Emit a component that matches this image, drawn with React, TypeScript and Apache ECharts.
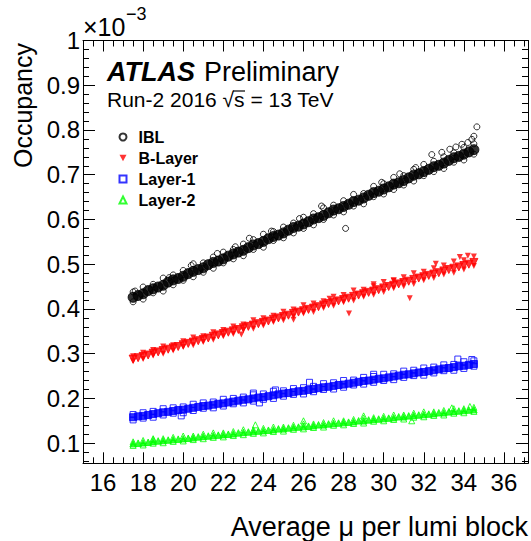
import React, { useEffect, useRef } from "react";
import * as echarts from "echarts";

// x grid of the measured lumi blocks (two interleaved rows)
const xA = [17.5, 18.0, 18.5, 19.0, 19.5, 20.0, 20.5, 21.0, 21.5, 22.0, 22.5, 23.0, 23.5, 24.0, 24.5, 25.0, 25.5, 26.0, 26.5, 27.0, 27.5, 28.0, 28.5, 29.0, 29.5, 30.0, 30.5, 31.0, 31.5, 32.0, 32.5, 33.0, 33.5, 34.0, 34.5];
const xB = [17.75, 18.25, 18.75, 19.25, 19.75, 20.25, 20.75, 21.25, 21.75, 22.25, 22.75, 23.25, 23.75, 24.25, 24.75, 25.25, 25.75, 26.25, 26.75, 27.25, 27.75, 28.25, 28.75, 29.25, 29.75, 30.25, 30.75, 31.25, 31.75, 32.25, 32.75, 33.25, 33.75, 34.25];

// IBL occupancy (x 1e-3)
const iblHi = [0.438, 0.449, 0.455, 0.469, 0.476, 0.486, 0.501, 0.503, 0.516, 0.527, 0.533, 0.545, 0.555, 0.567, 0.573, 0.583, 0.592, 0.605, 0.613, 0.626, 0.632, 0.642, 0.656, 0.658, 0.674, 0.680, 0.694, 0.698, 0.712, 0.723, 0.730, 0.740, 0.749, 0.761, 0.769];
const iblLo = [0.416, 0.422, 0.436, 0.440, 0.454, 0.464, 0.472, 0.482, 0.491, 0.503, 0.512, 0.519, 0.533, 0.538, 0.553, 0.559, 0.570, 0.580, 0.588, 0.600, 0.610, 0.617, 0.630, 0.635, 0.651, 0.657, 0.667, 0.677, 0.686, 0.698, 0.707, 0.714, 0.728, 0.733, 0.746];
const iblCoreA = [0.426, 0.434, 0.445, 0.453, 0.465, 0.473, 0.484, 0.492, 0.504, 0.512, 0.523, 0.531, 0.543, 0.551, 0.562, 0.570, 0.582, 0.590, 0.601, 0.609, 0.621, 0.629, 0.640, 0.648, 0.660, 0.668, 0.679, 0.687, 0.699, 0.707, 0.718, 0.726, 0.738, 0.746, 0.756];
const iblCoreB = [0.430, 0.441, 0.449, 0.460, 0.468, 0.479, 0.488, 0.499, 0.507, 0.518, 0.527, 0.537, 0.546, 0.557, 0.565, 0.576, 0.585, 0.595, 0.604, 0.615, 0.624, 0.634, 0.643, 0.654, 0.663, 0.673, 0.682, 0.693, 0.702, 0.712, 0.721, 0.732, 0.741, 0.751];
const iblOut = [[28.1, 0.58], [34.65, 0.807], [19.3, 0.470], [21.7, 0.524], [23.3, 0.558], [25.8, 0.602], [30.8, 0.702], [33.6, 0.762], [34.2, 0.772], [32.4, 0.745], [29.9, 0.683], [31.6, 0.716], [32.9, 0.750], [33.3, 0.757], [33.9, 0.768], [34.4, 0.779], [34.5, 0.786], [22.6, 0.539], [20.4, 0.497], [26.9, 0.630], [24.4, 0.574], [17.6, 0.440]];

// B-Layer
const blHi = [0.294, 0.302, 0.308, 0.316, 0.319, 0.328, 0.336, 0.339, 0.348, 0.353, 0.361, 0.365, 0.375, 0.379, 0.385, 0.394, 0.399, 0.408, 0.412, 0.417, 0.427, 0.431, 0.441, 0.443, 0.451, 0.460, 0.463, 0.471, 0.480, 0.483, 0.491, 0.497, 0.506, 0.509, 0.517];
const blLo = [0.283, 0.288, 0.296, 0.300, 0.307, 0.315, 0.319, 0.326, 0.331, 0.339, 0.344, 0.353, 0.356, 0.363, 0.371, 0.375, 0.383, 0.390, 0.393, 0.402, 0.407, 0.415, 0.419, 0.427, 0.432, 0.438, 0.446, 0.451, 0.456, 0.464, 0.469, 0.477, 0.481, 0.488, 0.496];
const blCoreA = [0.288, 0.294, 0.301, 0.307, 0.313, 0.320, 0.326, 0.332, 0.339, 0.345, 0.351, 0.358, 0.364, 0.370, 0.377, 0.383, 0.390, 0.396, 0.402, 0.409, 0.415, 0.421, 0.428, 0.434, 0.440, 0.447, 0.453, 0.459, 0.466, 0.472, 0.478, 0.485, 0.491, 0.497, 0.504];
const blCoreB = [0.291, 0.297, 0.304, 0.310, 0.316, 0.323, 0.329, 0.335, 0.342, 0.348, 0.354, 0.361, 0.367, 0.373, 0.380, 0.386, 0.393, 0.399, 0.405, 0.412, 0.418, 0.424, 0.431, 0.437, 0.443, 0.450, 0.456, 0.462, 0.469, 0.475, 0.481, 0.488, 0.494, 0.500];
const blOut = [[28.27, 0.390], [31.3, 0.424], [22.9, 0.343], [25.5, 0.376], [33.8, 0.516], [34.2, 0.519], [32.6, 0.501], [29.5, 0.455], [30.5, 0.464], [27.3, 0.423]];

// Layer-1
const l1Hi = [0.164, 0.168, 0.171, 0.177, 0.179, 0.181, 0.187, 0.190, 0.192, 0.198, 0.200, 0.203, 0.208, 0.210, 0.216, 0.217, 0.222, 0.224, 0.227, 0.233, 0.235, 0.240, 0.241, 0.247, 0.249, 0.254, 0.255, 0.261, 0.263, 0.268, 0.270, 0.275, 0.276, 0.282, 0.284];
const l1Lo = [0.152, 0.156, 0.158, 0.163, 0.167, 0.168, 0.173, 0.178, 0.179, 0.183, 0.188, 0.190, 0.194, 0.198, 0.200, 0.205, 0.209, 0.210, 0.215, 0.220, 0.221, 0.225, 0.230, 0.232, 0.236, 0.240, 0.242, 0.247, 0.251, 0.252, 0.257, 0.262, 0.263, 0.267, 0.272];
const l1CoreA = [0.158, 0.161, 0.165, 0.169, 0.172, 0.175, 0.179, 0.183, 0.186, 0.189, 0.193, 0.197, 0.200, 0.203, 0.207, 0.211, 0.214, 0.217, 0.221, 0.225, 0.228, 0.231, 0.235, 0.239, 0.242, 0.245, 0.249, 0.253, 0.256, 0.259, 0.263, 0.267, 0.270, 0.273, 0.277];
const l1CoreB = [0.160, 0.163, 0.167, 0.170, 0.174, 0.177, 0.181, 0.184, 0.188, 0.191, 0.195, 0.198, 0.202, 0.205, 0.209, 0.212, 0.216, 0.219, 0.223, 0.226, 0.230, 0.233, 0.237, 0.240, 0.244, 0.247, 0.251, 0.254, 0.258, 0.261, 0.265, 0.268, 0.272, 0.275];
const l1Out = [[23.5, 0.212], [19.9, 0.161], [24.6, 0.219], [23.8, 0.190], [33.7, 0.288], [34.4, 0.287], [26.3, 0.236], [29.5, 0.254]];

// Layer-2
const l2Hi = [0.103, 0.106, 0.110, 0.110, 0.113, 0.116, 0.116, 0.120, 0.123, 0.123, 0.126, 0.130, 0.130, 0.133, 0.136, 0.136, 0.140, 0.143, 0.143, 0.146, 0.150, 0.150, 0.153, 0.156, 0.157, 0.160, 0.163, 0.163, 0.167, 0.170, 0.170, 0.173, 0.177, 0.177, 0.180];
const l2Lo = [0.095, 0.096, 0.100, 0.101, 0.104, 0.105, 0.108, 0.110, 0.113, 0.114, 0.117, 0.119, 0.122, 0.123, 0.126, 0.127, 0.131, 0.132, 0.135, 0.136, 0.140, 0.141, 0.144, 0.145, 0.149, 0.150, 0.153, 0.154, 0.158, 0.159, 0.162, 0.163, 0.167, 0.168, 0.171];
const l2CoreA = [0.099, 0.101, 0.104, 0.106, 0.108, 0.110, 0.112, 0.115, 0.117, 0.119, 0.121, 0.124, 0.126, 0.128, 0.130, 0.132, 0.135, 0.137, 0.139, 0.141, 0.144, 0.146, 0.148, 0.150, 0.153, 0.155, 0.157, 0.159, 0.162, 0.164, 0.166, 0.168, 0.171, 0.173, 0.175];
const l2CoreB = [0.100, 0.102, 0.105, 0.107, 0.109, 0.111, 0.114, 0.116, 0.118, 0.120, 0.123, 0.125, 0.127, 0.129, 0.132, 0.134, 0.136, 0.138, 0.141, 0.143, 0.145, 0.147, 0.150, 0.152, 0.154, 0.156, 0.159, 0.161, 0.163, 0.165, 0.168, 0.170, 0.172, 0.174];
const l2Out = [[23.6, 0.141], [31.4, 0.150], [34.3, 0.182], [26.0, 0.150], [33.4, 0.179], [18.5, 0.108], [29.0, 0.161]];

// axis ticks / labels
const xMajor = [16, 18, 20, 22, 24, 26, 28, 30, 32, 34, 36];
const yMajor = [0.1, 0.2, 0.3, 0.4, 0.5, 0.6, 0.7, 0.8, 0.9, 1.0];
const seriesNames = ["IBL", "B-Layer", "Layer-1", "Layer-2"];

const FONT = "'Liberation Sans', Arial, Helvetica, sans-serif";
const X_MIN = 15;
const X_MAX = 37.2;
const Y_MIN = 0.055;
const Y_MAX = 1.0;
const DOWN_TRI = "path://M0,0L10,0L5,9Z";

function zip(xs: number[], ys: number[]) {
  const n = Math.min(xs.length, ys.length);
  const out: any[] = [];
  for (let i = 0; i < n; i++) out.push([xs[i], ys[i]]);
  return out;
}
// dense (over-plotted) core of a band: drawn as filled marks
function core(xs: number[], ys: number[], size: number, color: string) {
  return zip(xs, ys).map((p) => ({ value: p, symbolSize: size, itemStyle: { color, borderColor: color } }));
}

export default function App() {
  const ref = useRef<HTMLDivElement>(null);
  useEffect(() => {
    if (!ref.current) return;
    const chart = echarts.init(ref.current, null, { renderer: "svg" });

    const xMinor: number[] = [];
    for (let i = 30; i <= 74; i++) xMinor.push(i / 2);
    const yMinor: number[] = [];
    for (let i = 3; i <= 50; i++) yMinor.push(+(i * 0.02).toFixed(2));

    const lineStyle = { color: "#000", width: 1 };
    const mkX = (pos: string, major: boolean, labels: boolean) => ({
      type: "value",
      position: pos,
      min: X_MIN,
      max: X_MAX,
      splitLine: { show: false },
      axisLine: { show: major, onZero: false, lineStyle },
      axisTick: {
        show: true,
        inside: true,
        length: major ? 11 : 6,
        customValues: major ? xMajor : xMinor,
        lineStyle,
      },
      axisLabel: {
        show: labels,
        customValues: xMajor,
        margin: 7,
        fontSize: 24,
        fontFamily: FONT,
        color: "#000",
      },
    });
    const mkY = (pos: string, major: boolean, labels: boolean) => ({
      type: "value",
      position: pos,
      min: Y_MIN,
      max: Y_MAX,
      splitLine: { show: false },
      axisLine: { show: major, onZero: false, lineStyle },
      axisTick: {
        show: true,
        inside: true,
        length: major ? 12 : 6,
        customValues: major ? yMajor : yMinor,
        lineStyle,
      },
      axisLabel: {
        show: labels,
        customValues: yMajor,
        margin: 3,
        fontSize: 24,
        fontFamily: FONT,
        color: "#000",
        formatter: (v: number) => String(+v.toFixed(2)),
      },
    });

    const txt = (text: string, x: number, y: number, font: string, align = "left", extra: any = {}) => ({
      type: "text",
      x,
      y,
      ...extra,
      style: { text, font, fill: "#000", align, verticalAlign: "middle", textAlign: align, textVerticalAlign: "middle" },
    });

    const option: any = {
      animation: false,
      backgroundColor: "#fff",
      grid: { left: 83, right: 3, top: 40.5, bottom: 77.7, containLabel: false, outerBoundsMode: "none" },
      xAxis: [mkX("bottom", true, true), mkX("top", true, false), mkX("bottom", false, false), mkX("top", false, false)],
      yAxis: [mkY("left", true, true), mkY("right", true, false), mkY("left", false, false), mkY("right", false, false)],
      legend: {
        orient: "vertical",
        left: 118.5,
        top: 129,
        padding: 0,
        itemWidth: 7,
        itemHeight: 7,
        itemGap: 5,
        selectedMode: false,
        data: seriesNames,
        textStyle: { fontFamily: FONT, fontWeight: "bold", fontSize: 16, color: "#000", padding: [0, 0, 0, 7] },
      },
      series: [
        {
          name: seriesNames[0],
          type: "scatter",
          symbol: "circle",
          symbolSize: 6,
          itemStyle: { color: "rgba(0,0,0,0)", borderColor: "#000", borderWidth: 1 },
          data: [...core(xA, iblCoreA, 10, "#000"), ...core(xB, iblCoreB, 10, "#000"), ...zip(xA, iblHi), ...zip(xA, iblLo), ...iblOut],
        },
        {
          name: seriesNames[1],
          type: "scatter",
          symbol: DOWN_TRI,
          symbolSize: 6,
          itemStyle: { color: "#ff0000" },
          data: [...core(xA, blCoreA, 8, "#ff0000"), ...core(xB, blCoreB, 8, "#ff0000"), ...zip(xA, blHi), ...zip(xA, blLo), ...blOut],
        },
        {
          name: seriesNames[2],
          type: "scatter",
          symbol: "rect",
          symbolSize: 6,
          itemStyle: { color: "rgba(0,0,0,0)", borderColor: "#0000ff", borderWidth: 1 },
          data: [...core(xA, l1CoreA, 7, "#0000ff"), ...core(xB, l1CoreB, 7, "#0000ff"), ...zip(xA, l1Hi), ...zip(xA, l1Lo), ...l1Out],
        },
        {
          name: seriesNames[3],
          type: "scatter",
          symbol: "triangle",
          symbolSize: 6,
          itemStyle: { color: "rgba(0,0,0,0)", borderColor: "#00ff00", borderWidth: 1 },
          data: [...core(xA, l2CoreA, 6.5, "#00ff00"), ...core(xB, l2CoreB, 6.5, "#00ff00"), ...zip(xA, l2Hi), ...zip(xA, l2Lo), ...l2Out],
        },
      ],
      graphic: [
        txt("×10", 83, 27, `25px ${FONT}`),
        txt("−3", 126, 14, `18px ${FONT}`),
        txt("Occupancy", 23, 43, `25px ${FONT}`, "right", { rotation: Math.PI / 2 }),
        txt("Average μ per lumi block", 528, 527, `27px ${FONT}`, "right"),
        txt("ATLAS", 107, 72, `italic bold 27px ${FONT}`),
        txt("Preliminary", 204, 72, `27px ${FONT}`),
        txt("Run-2 2016 √s = 13 TeV", 107, 99, `21px ${FONT}`),
        { type: "line", shape: { x1: 233, y1: 91, x2: 245, y2: 91 }, style: { stroke: "#000", lineWidth: 1.2 } },
      ],
    };
    chart.setOption(option);
    return () => chart.dispose();
  }, []);
  return <div ref={ref} style={{ position: "fixed", left: 0, top: 0, width: 531, height: 541 }} />;
}
